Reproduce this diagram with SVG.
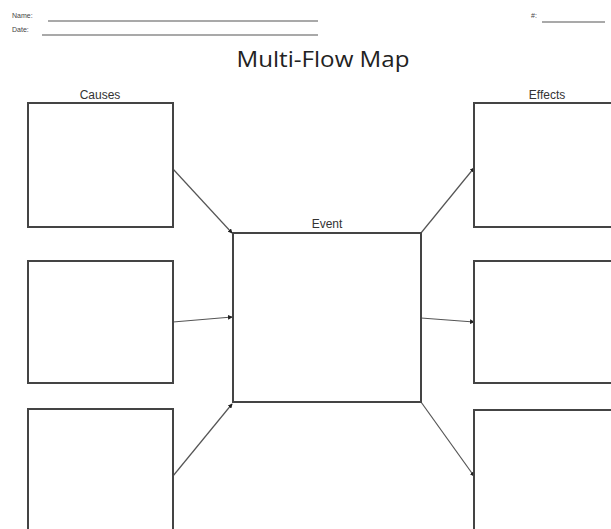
<svg xmlns="http://www.w3.org/2000/svg" width="611" height="529" viewBox="0 0 611 529">
<defs>
<marker id="ah" viewBox="0 0 6 6" refX="5" refY="3" markerWidth="4" markerHeight="4" orient="auto">
<path d="M0,0 L6,3 L0,6 z" fill="#222"/>
</marker>
<style>
.box{fill:#fff;stroke:#444;stroke-width:2}
.con{stroke:#555;stroke-width:1.2;fill:none;marker-end:url(#ah)}
.lbl{font-family:"Liberation Sans",Arial,sans-serif;font-size:12px;fill:#333;text-anchor:middle}
.hdr{font-family:"Liberation Sans",Arial,sans-serif;font-size:7px;fill:#444}
.hl{stroke:#555;stroke-width:1.2}
.title{font-family:"Open Sans","Noto Sans",sans-serif;font-size:22px;fill:#222;text-anchor:middle}
</style>
</defs>
<rect width="611" height="529" fill="#fff"/>
<g id="header">
<text class="hdr" x="12" y="18">Name:</text>
<line class="hl" x1="48" y1="21" x2="318" y2="21"/>
<text class="hdr" x="12" y="32">Date:</text>
<line class="hl" x1="42" y1="35" x2="318" y2="35"/>
<text class="hdr" x="531" y="18">#:</text>
<line class="hl" x1="542" y1="22" x2="605" y2="22"/>
<text class="title" x="323" y="67" textLength="173" lengthAdjust="spacingAndGlyphs">Multi-Flow Map</text>
</g>
<g id="connectors">
<line class="con" x1="173" y1="169" x2="232" y2="233"/>
<line class="con" x1="173" y1="322" x2="232" y2="317"/>
<line class="con" x1="173" y1="476" x2="232" y2="404"/>
<line class="con" x1="421" y1="233" x2="474" y2="168"/>
<line class="con" x1="421" y1="318" x2="474" y2="322"/>
<line class="con" x1="421" y1="402" x2="474" y2="476"/>
</g>
<g id="causes-label"><text class="lbl" x="100" y="99">Causes</text></g>
<g id="effects-label"><text class="lbl" x="547" y="99">Effects</text></g>
<g id="cause1"><rect class="box" x="28" y="103" width="145" height="124"/></g>
<g id="cause2"><rect class="box" x="28" y="261" width="145" height="122"/></g>
<g id="cause3"><rect class="box" x="28" y="409" width="145" height="130"/></g>
<g id="event"><rect class="box" x="233" y="233" width="188" height="169"/><text class="lbl" x="327" y="228">Event</text></g>
<g id="effect1"><rect class="box" x="474" y="103" width="145" height="124"/></g>
<g id="effect2"><rect class="box" x="474" y="261" width="145" height="122"/></g>
<g id="effect3"><rect class="box" x="474" y="410" width="145" height="130"/></g>
</svg>
